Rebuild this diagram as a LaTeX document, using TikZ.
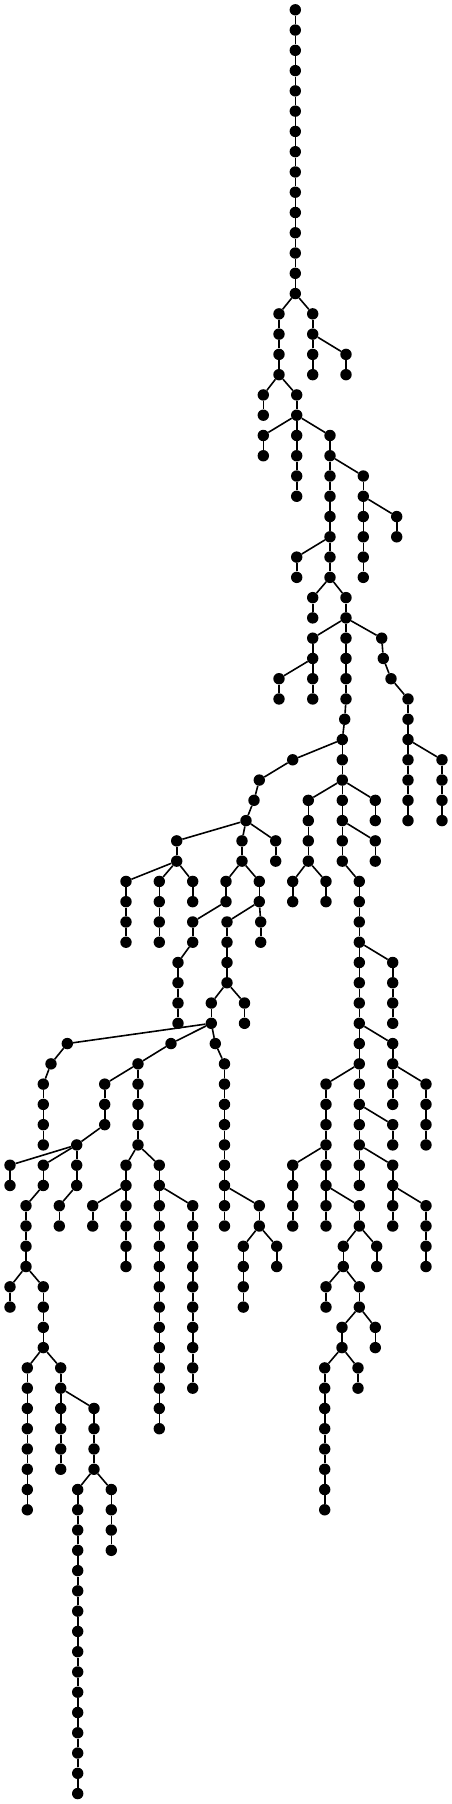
\documentclass[tikz,border=0pt]{standalone}
\usetikzlibrary{positioning}

% branches of the tree: name/x/first level/last level/parent
\def\branches{%
A/279/15/18/T-14,
B/312.7/15/18/T-14,
C/346/17/18/B-16,
D/263.3/19/20/A-18,
E/296.7/19/20/A-18,
F/263.3/21/22/E-20,
G/296.7/21/24/E-20,
H/330/21/28/E-20,
I/363.3/23/28/H-22,
J/396.7/25/26/I-24,
K/296.7/27/28/H-26,
L/312.7/29/30/H-28,
M/346/29/34/H-28,
N/312.7/31/34/M-30,
O/279/33/34/N-32,
Qa/381.7/31/31/M-30,
Qb/383.3/32/32/Qa-31,
Qc/391/33/33/Qb-32,
R/408/34/40/Qc-33,
S/442/37/40/R-36,
Pz/344.7/35/35/M-34,
P/342.3/36/42/Pz-35,
Ua/292.7/37/37/P-36,
Ub/259.3/38/38/Ua-37,
Uc/254/39/39/Ub-38,
Ud/246/40/40/Uc-39,
V/176.7/41/42/Ud-40,
W/242/41/42/Ud-40,
X/275.7/41/42/Ud-40,
Va/126/43/46/V-42,
Vb/159.3/43/46/V-42,
Vc/192.7/43/44/V-42,
Wa/226/43/44/W-42,
Wb/259.3/43/44/W-42,
Wc/192.7/45/46/Wa-44,
Wd/178/47/50/Wc-46,
We/227/45/48/Wb-44,
Wf/260.7/45/46/Wb-44,
Y/211.3/49/50/We-48,
Z/244.5/49/50/We-48,
Ya/67.3/51/51/Y-50,
Yb/51/52/52/Ya-51,
Yc/43.3/53/56/Yb-52,
Yd/171/51/51/Y-50,
Ye/138/52/56/Yd-51,
Yf/104.7/53/55/Ye-52,
Yg/76.7/56/58/Yf-55,
Yh/59.3/59/60/Yg-58,
Yi/10/57/58/Yg-56,
Yj/43.3/57/58/Yg-56,
Yk/26/59/62/Yj-58,
Yl/10/63/64/Yk-62,
Ym/43.3/63/66/Yk-62,
Yn/27.3/67/74/Ym-66,
Yo/60.7/67/72/Ym-66,
Yp/94/69/72/Yo-68,
Yq/77.7/73/88/Yp-72,
Yr/111.3/73/76/Yp-72,
Ys/126/57/62/Ye-56,
Yt/92.7/59/60/Ys-58,
Yu/159.3/57/70/Ye-56,
Yv/192.7/59/68/Yu-58,
Yw/215.3/51/51/Y-50,
Yx/224.5/52/60/Yw-51,
Yy/259.3/59/60/Yx-58,
Yz/243.3/61/64/Yy-60,
Y0/276.7/61/62/Yy-60,
Pt/308.3/39/42/P-38,
Pu/375.3/39/40/P-38,
Pv/292.7/43/44/Pt-42,
Pw/326/43/44/Pt-42,
Px/375.3/41/42/P-40,
Pa/359.3/43/58/P-42,
Pb/392.7/47/50/Pa-46,
Pc/392.7/51/54/Pa-50,
Pd/426/53/56/Pc-52,
Pe/326/53/60/Pa-52,
Pf/292.7/57/60/Pe-56,
Pg/359.3/59/60/Pe-58,
Ph/343.3/61/62/Pg-60,
Pi/376.7/61/62/Pg-60,
Pj/326/63/64/Ph-62,
Pk/359.3/63/64/Ph-62,
Pl/342/65/66/Pk-64,
Pm/375.3/65/66/Pk-64,
Pn/324.7/67/74/Pl-66,
Po/358/67/68/Pl-66,
Pp/392.7/55/56/Pa-54,
Pq/392.7/57/60/Pa-56,
Pr/426/59/62/Pq-58}

\begin{document}
\begin{tikzpicture}[
  x=1pt, y=-1pt,
  vertex/.style={circle, fill=black, inner sep=0pt, minimum size=11.4pt},
  link/.style={-, line width=1.6pt, draw=black}
]
\useasboundingbox (0,0) rectangle (452,1804);

% ----------------- TRUNK -----------------
\foreach \l in {0,...,14}
  \node[vertex] (T-\l) at (295.3,{9.8+20.27*\l}) {};
\foreach \l in {1,...,14}{
  \pgfmathtruncatemacro\k{\l-1}
  \draw[link] (T-\k) -- (T-\l);
}

% ----------------- BRANCHES -----------------
\foreach \b/\x/\f/\t/\p in \branches {
  \foreach \l in {\f,...,\t}
    \node[vertex] (\b-\l) at (\x,{9.8+20.27*\l}) {};
  \draw[link] (\p) -- (\b-\f);
  \pgfmathtruncatemacro\g{\f+1}
  \ifnum\g>\t\else
    \foreach \l in {\g,...,\t}{
      \pgfmathtruncatemacro\k{\l-1}
      \draw[link] (\b-\k) -- (\b-\l);
    }
  \fi
}

\end{tikzpicture}
\end{document}
